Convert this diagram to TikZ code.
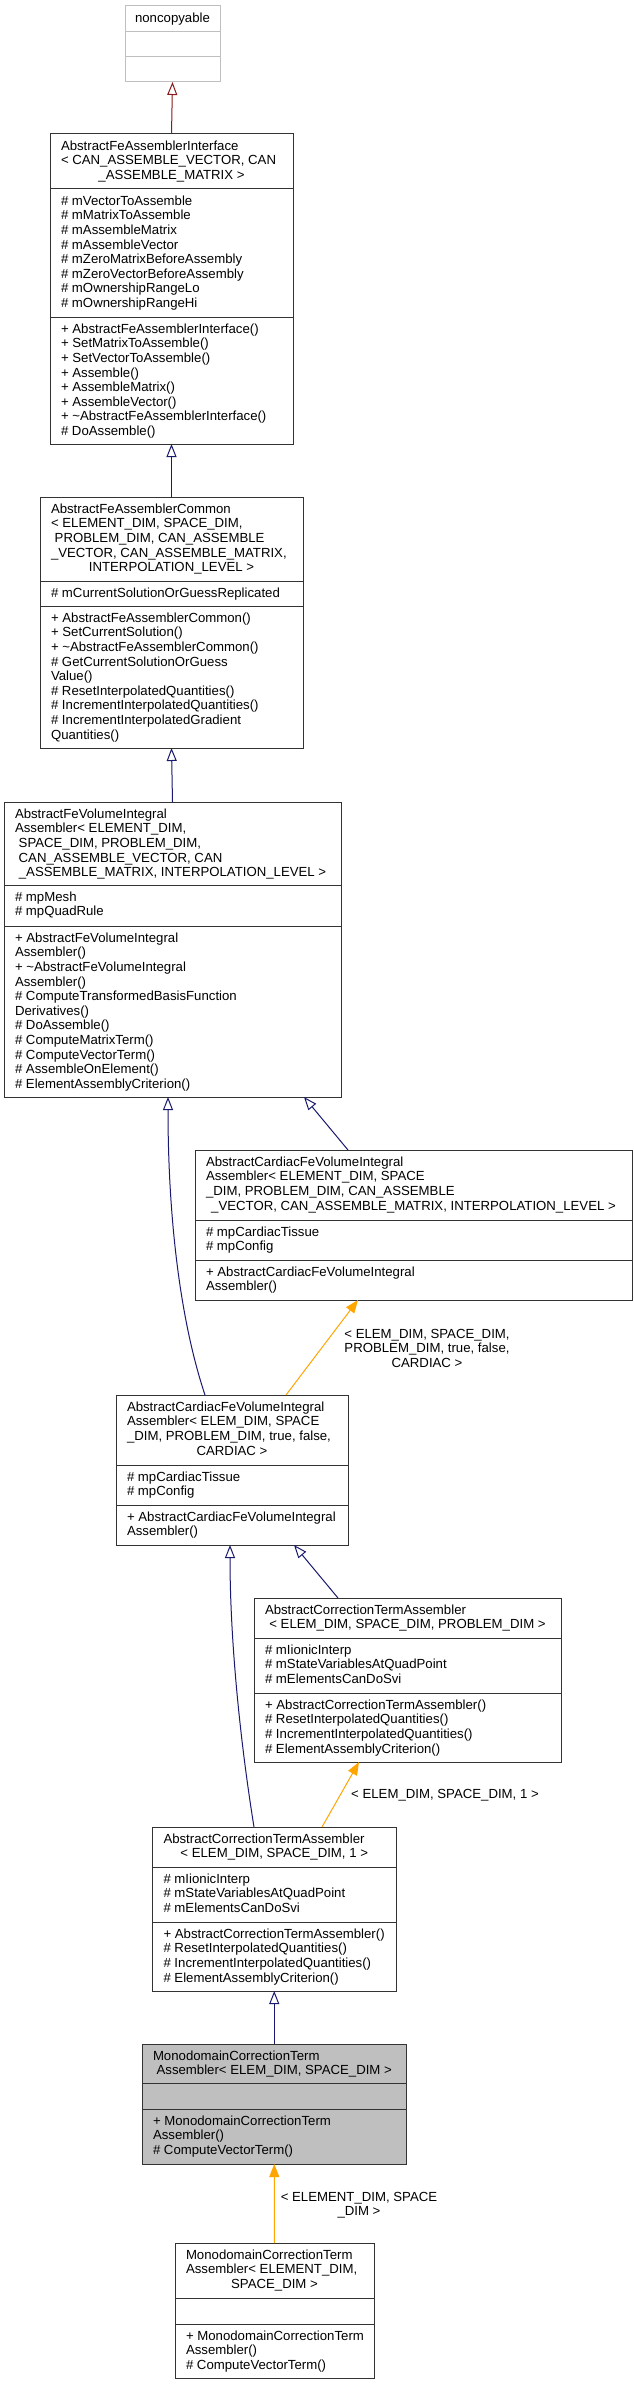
\documentclass[tikz,border=0pt]{standalone}
\usepackage{fontspec}
\setmainfont{Liberation Sans}
\usetikzlibrary{arrows.meta,calc}
\definecolor{navy}{HTML}{191970}
\definecolor{fbrick}{HTML}{8B1A1A}
\definecolor{dorange}{HTML}{FFA500}
\definecolor{grey75}{HTML}{BFBFBF}
\definecolor{boxc}{HTML}{333333}
\newcommand\dfont{\fontsize{13.2}{14.6}\selectfont}
\newcommand\clsdiv[3][boxc]{\draw[draw=#1, line width=1pt] ($(#2.north west)+(0,#3)$) -- ($(#2.north east)+(0,#3)$);}
\newcommand\ltab[1]{\begin{tabular}[t]{@{}l@{}}#1\end{tabular}}
\newcommand\ctab[1]{\begin{tabular}[t]{@{}c@{}}#1\end{tabular}}
\begin{document}
\begin{tikzpicture}[x=1pt,y=-1pt,
 cls/.style={draw=boxc, line width=1pt, fill=white, inner sep=0pt, outer sep=0pt, anchor=north west},
 txt/.style={font=\dfont, inner sep=0pt, outer sep=0pt, anchor=base west},
 ctxt/.style={font=\dfont, inner sep=0pt, outer sep=0pt, anchor=base},
 lab/.style={font=\dfont, inner sep=0pt, outer sep=0pt, anchor=base},
 inh/.style={draw=navy, line width=1pt, -{Triangle[open,length=13pt,width=10pt]}},
 prv/.style={draw=fbrick, line width=1pt, -{Triangle[open,length=13pt,width=10pt]}},
 tmpl/.style={draw=dorange, line width=1pt, -{Triangle[length=13pt,width=10pt]}},
]
\useasboundingbox (0,0) rectangle (633,2384);
\fill[white] (0,0) rectangle (633,2384);

% noncopyable
\node[cls, draw=grey75, minimum width=95pt, minimum height=76pt] (noncopy) at (125,6) {};
\clsdiv[grey75]{noncopy}{26}
\clsdiv[grey75]{noncopy}{51}
\node[ctxt] (noncopyt) at ($(noncopy.north)+(0,16.3)$) {noncopyable};

% AbstractFeAssemblerInterface
\node[cls, minimum width=243pt, minimum height=310pt] (iface) at (50,134) {};
\clsdiv{iface}{55}\clsdiv{iface}{183}
\node[txt] (ifacet) at ($(iface.north west)+(11,16.3)$) {\ltab{AbstractFeAssemblerInterface\\< CAN\_ASSEMBLE\_VECTOR, CAN}};
\node[ctxt] (ifacec) at ($(iface.north)+(0,45.5)$) {\_ASSEMBLE\_MATRIX >};
\node[txt] (ifacea) at ($(iface.north west)+(11,55+16.3)$) {\ltab{\# mVectorToAssemble\\\# mMatrixToAssemble\\\# mAssembleMatrix\\\# mAssembleVector\\\# mZeroMatrixBeforeAssembly\\\# mZeroVectorBeforeAssembly\\\# mOwnershipRangeLo\\\# mOwnershipRangeHi}};
\node[txt] (ifacem) at ($(iface.north west)+(11,183+16.3)$) {\ltab{+ AbstractFeAssemblerInterface()\\+ SetMatrixToAssemble()\\+ SetVectorToAssemble()\\+ Assemble()\\+ AssembleMatrix()\\+ AssembleVector()\\+ \textasciitilde AbstractFeAssemblerInterface()\\\# DoAssemble()}};

% AbstractFeAssemblerCommon
\node[cls, minimum width=263pt, minimum height=251pt] (common) at (40,497) {};
\clsdiv{common}{84}\clsdiv{common}{109}
\node[txt] (commont) at ($(common.north west)+(11,16.3)$) {\ltab{AbstractFeAssemblerCommon\\< ELEMENT\_DIM, SPACE\_DIM,\\\hspace*{3.7pt}PROBLEM\_DIM, CAN\_ASSEMBLE\\\_VECTOR, CAN\_ASSEMBLE\_MATRIX,}};
\node[ctxt] (commonc) at ($(common.north)+(0,74.7)$) {INTERPOLATION\_LEVEL >};
\node[txt] (commona) at ($(common.north west)+(11,84+16.3)$) {\# mCurrentSolutionOrGuessReplicated};
\node[txt] (commonm) at ($(common.north west)+(11,109+16.3)$) {\ltab{+ AbstractFeAssemblerCommon()\\+ SetCurrentSolution()\\+ \textasciitilde AbstractFeAssemblerCommon()\\\# GetCurrentSolutionOrGuess\\Value()\\\# ResetInterpolatedQuantities()\\\# IncrementInterpolatedQuantities()\\\# IncrementInterpolatedGradient\\Quantities()}};

% AbstractFeVolumeIntegralAssembler
\node[cls, minimum width=337pt, minimum height=295pt] (fevol) at (4,802) {};
\clsdiv{fevol}{83}\clsdiv{fevol}{124}
\node[txt] (fevolt) at ($(fevol.north west)+(11,16.3)$) {\ltab{AbstractFeVolumeIntegral\\Assembler< ELEMENT\_DIM,\\\hspace*{3.7pt}SPACE\_DIM, PROBLEM\_DIM,\\\hspace*{3.7pt}CAN\_ASSEMBLE\_VECTOR, CAN}};
\node[ctxt] (fevolc) at ($(fevol.north)+(0,74.7)$) {\_ASSEMBLE\_MATRIX, INTERPOLATION\_LEVEL >};
\node[txt] (fevola) at ($(fevol.north west)+(11,83+16.3)$) {\ltab{\# mpMesh\\\# mpQuadRule}};
\node[txt] (fevolm) at ($(fevol.north west)+(11,124+16.3)$) {\ltab{+ AbstractFeVolumeIntegral\\Assembler()\\+ \textasciitilde AbstractFeVolumeIntegral\\Assembler()\\\# ComputeTransformedBasisFunction\\Derivatives()\\\# DoAssemble()\\\# ComputeMatrixTerm()\\\# ComputeVectorTerm()\\\# AssembleOnElement()\\\# ElementAssemblyCriterion()}};

% AbstractCardiacFeVolumeIntegralAssembler (template)
\node[cls, minimum width=437pt, minimum height=150pt] (cardT) at (195,1150) {};
\clsdiv{cardT}{70}\clsdiv{cardT}{110}
\node[txt] (cardTt) at ($(cardT.north west)+(11,16.3)$) {\ltab{AbstractCardiacFeVolumeIntegral\\Assembler< ELEMENT\_DIM, SPACE\\\_DIM, PROBLEM\_DIM, CAN\_ASSEMBLE}};
\node[ctxt] (cardTc) at ($(cardT.north)+(0,60.1)$) {\_VECTOR, CAN\_ASSEMBLE\_MATRIX, INTERPOLATION\_LEVEL >};
\node[txt] (cardTa) at ($(cardT.north west)+(11,70+16.3)$) {\ltab{\# mpCardiacTissue\\\# mpConfig}};
\node[txt] (cardTm) at ($(cardT.north west)+(11,110+16.3)$) {\ltab{+ AbstractCardiacFeVolumeIntegral\\Assembler()}};

% AbstractCardiacFeVolumeIntegralAssembler (instance)
\node[cls, minimum width=232pt, minimum height=150pt] (cardI) at (116,1395) {};
\clsdiv{cardI}{70}\clsdiv{cardI}{110}
\node[txt] (cardIt) at ($(cardI.north west)+(11,16.3)$) {\ltab{AbstractCardiacFeVolumeIntegral\\Assembler< ELEM\_DIM, SPACE\\\_DIM, PROBLEM\_DIM, true, false,}};
\node[ctxt] (cardIc) at ($(cardI.north)+(0,60.1)$) {CARDIAC >};
\node[txt] (cardIa) at ($(cardI.north west)+(11,70+16.3)$) {\ltab{\# mpCardiacTissue\\\# mpConfig}};
\node[txt] (cardIm) at ($(cardI.north west)+(11,110+16.3)$) {\ltab{+ AbstractCardiacFeVolumeIntegral\\Assembler()}};

% AbstractCorrectionTermAssembler (template)
\node[cls, minimum width=307pt, minimum height=164pt] (corrT) at (254,1598) {};
\clsdiv{corrT}{40}\clsdiv{corrT}{95}
\node[txt] (corrTt) at ($(corrT.north west)+(11,16.3)$) {AbstractCorrectionTermAssembler};
\node[ctxt] (corrTc) at ($(corrT.north)+(0,30.9)$) {< ELEM\_DIM, SPACE\_DIM, PROBLEM\_DIM >};
\node[txt] (corrTa) at ($(corrT.north west)+(11,40+16.3)$) {\ltab{\# mIionicInterp\\\# mStateVariablesAtQuadPoint\\\# mElementsCanDoSvi}};
\node[txt] (corrTm) at ($(corrT.north west)+(11,95+16.3)$) {\ltab{+ AbstractCorrectionTermAssembler()\\\# ResetInterpolatedQuantities()\\\# IncrementInterpolatedQuantities()\\\# ElementAssemblyCriterion()}};

% AbstractCorrectionTermAssembler (instance)
\node[cls, minimum width=243.5pt, minimum height=164pt] (corrI) at (152.5,1827) {};
\clsdiv{corrI}{40}\clsdiv{corrI}{95}
\node[txt] (corrIt) at ($(corrI.north west)+(11,16.3)$) {AbstractCorrectionTermAssembler};
\node[ctxt] (corrIc) at ($(corrI.north)+(0,30.9)$) {< ELEM\_DIM, SPACE\_DIM, 1 >};
\node[txt] (corrIa) at ($(corrI.north west)+(11,40+16.3)$) {\ltab{\# mIionicInterp\\\# mStateVariablesAtQuadPoint\\\# mElementsCanDoSvi}};
\node[txt] (corrIm) at ($(corrI.north west)+(11,95+16.3)$) {\ltab{+ AbstractCorrectionTermAssembler()\\\# ResetInterpolatedQuantities()\\\# IncrementInterpolatedQuantities()\\\# ElementAssemblyCriterion()}};

% MonodomainCorrectionTermAssembler (highlighted)
\node[cls, fill=grey75, minimum width=264.5pt, minimum height=120pt] (mono) at (142,2044) {};
\clsdiv{mono}{39}\clsdiv{mono}{65}
\node[txt] (monot) at ($(mono.north west)+(11,16.3)$) {MonodomainCorrectionTerm};
\node[ctxt] (monoc) at ($(mono.north)+(0,30.9)$) {Assembler< ELEM\_DIM, SPACE\_DIM >};
\node[txt] (monom) at ($(mono.north west)+(11,65+16.3)$) {\ltab{+ MonodomainCorrectionTerm\\Assembler()\\\# ComputeVectorTerm()}};

% MonodomainCorrectionTermAssembler (instance)
\node[cls, minimum width=199pt, minimum height=135pt] (monoI) at (175,2243) {};
\clsdiv{monoI}{55}\clsdiv{monoI}{81}
\node[txt] (monoIt) at ($(monoI.north west)+(11,16.3)$) {\ltab{MonodomainCorrectionTerm\\Assembler< ELEMENT\_DIM,}};
\node[ctxt] (monoIc) at ($(monoI.north)+(0,45.5)$) {SPACE\_DIM >};
\node[txt] (monoIm) at ($(monoI.north west)+(11,81+16.3)$) {\ltab{+ MonodomainCorrectionTerm\\Assembler()\\\# ComputeVectorTerm()}};

% connectors
\draw[prv] (iface.north) -- (noncopy.south);
\draw[inh] (common.north) -- (iface.south);
\draw[inh] (fevol.north) -- (common.south);
\draw[inh] ($(cardI.north west)+(89,0)$) .. controls +(-25,-75) and +(0,120) .. ($(fevol.south west)+(164,0)$);
\draw[inh] ($(cardT.north west)+(153,0)$) -- ($(fevol.south west)+(300,0)$);
\draw[tmpl] ($(cardI.north west)+(170,0)$) -- ($(cardT.south west)+(163,0)$);
\draw[inh] ($(corrI.north west)+(101.5,0)$) .. controls +(-14,-87) and +(0,95) .. ($(cardI.south west)+(114,0)$);
\draw[inh] ($(corrT.north west)+(84,0)$) -- ($(cardI.south west)+(178,0)$);
\draw[tmpl] ($(corrI.north west)+(169.5,0)$) -- ($(corrT.south west)+(105,0)$);
\draw[inh] (mono.north) -- (corrI.south);
\draw[tmpl] (monoI.north) -- (mono.south);

% edge labels
\node[lab] (lab1) at (427,1338) {\ctab{< ELEM\_DIM, SPACE\_DIM,\\PROBLEM\_DIM, true, false,\\CARDIAC >}};
\node[lab] (lab2) at (445,1798) {< ELEM\_DIM, SPACE\_DIM, 1 >};
\node[lab] (lab3) at (359,2201) {\ctab{< ELEMENT\_DIM, SPACE\\\_DIM >}};
\end{tikzpicture}
\end{document}
